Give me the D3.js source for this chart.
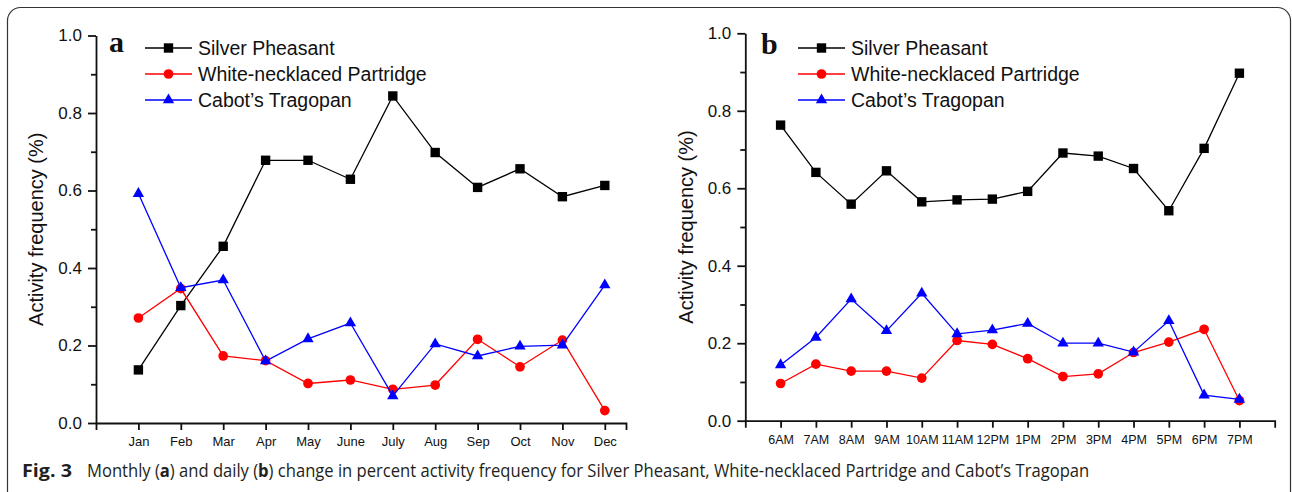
<!DOCTYPE html>
<html>
<head>
<meta charset="utf-8">
<script src="https://cdn.jsdelivr.net/npm/d3@7"></script>
<style>
  body { margin: 0; background: #fff; }
  svg text { font-family: "Liberation Sans", Arial, sans-serif; fill: #111; }
</style>
</head>
<body>
<svg id="fig" width="1292" height="492"></svg>
<script>
// ---- data ----
var months = ["Jan", "Feb", "Mar", "Apr", "May", "June", "July", "Aug", "Sep", "Oct", "Nov", "Dec"];
var hours  = ["6AM", "7AM", "8AM", "9AM", "10AM", "11AM", "12PM", "1PM", "2PM", "3PM", "4PM", "5PM", "6PM", "7PM"];

var seriesNames = ["Silver Pheasant", "White-necklaced Partridge", "Cabot\u2019s Tragopan"];

var monthSilver    = [0.137, 0.303, 0.456, 0.678, 0.678, 0.629, 0.844, 0.698, 0.608, 0.656, 0.584, 0.613];
var monthPartridge = [0.271, 0.347, 0.173, 0.161, 0.102, 0.111, 0.087, 0.098, 0.216, 0.145, 0.214, 0.032];
var monthTragopan  = [0.592, 0.349, 0.369, 0.160, 0.217, 0.258, 0.070, 0.204, 0.173, 0.198, 0.201, 0.356];

var hourSilver    = [0.763, 0.641, 0.559, 0.645, 0.565, 0.570, 0.572, 0.592, 0.691, 0.683, 0.651, 0.542, 0.703, 0.897];
var hourPartridge = [0.096, 0.146, 0.128, 0.128, 0.110, 0.207, 0.197, 0.160, 0.114, 0.121, 0.176, 0.203, 0.236, 0.052];
var hourTragopan  = [0.144, 0.215, 0.314, 0.232, 0.329, 0.224, 0.234, 0.251, 0.200, 0.200, 0.177, 0.258, 0.066, 0.055];

var yMajor = [0, 0.2, 0.4, 0.6, 0.8, 1.0];
var yMinor = [0.1, 0.3, 0.5, 0.7, 0.9];

var colors  = ["#000000", "#ff0000", "#0000ff"];
var symbols = [d3.symbolSquare, d3.symbolCircle, d3.symbolTriangle];
var symSize = [88, 74, 56];

var svg = d3.select("#fig");

// frame
svg.append("rect")
    .attr("x", 7.5).attr("y", 7.5)
    .attr("width", 1283).attr("height", 500)
    .attr("rx", 13).attr("ry", 13)
    .attr("fill", "#fff")
    .attr("stroke", "#333")
    .attr("stroke-width", 1.2);

function panel(cfg) {
  var g = svg.append("g");

  var x = d3.scaleLinear().domain(cfg.xDomain).range([cfg.left, cfg.right]);
  var y = d3.scaleLinear().domain([0, 1]).range([cfg.bottom, cfg.top]);

  // y axis
  var yAxis = g.append("g")
      .attr("transform", "translate(" + cfg.left + ",0)")
      .call(d3.axisLeft(y).tickValues(yMajor).tickFormat(d3.format(".1f"))
              .tickSize(8).tickSizeOuter(0).tickPadding(6));
  yAxis.selectAll("text").style("font-size", "17px");

  g.append("g")
      .attr("transform", "translate(" + cfg.left + ",0)")
      .call(d3.axisLeft(y).tickValues(yMinor).tickFormat("").tickSize(5).tickSizeOuter(0))
      .select(".domain").remove();

  // x axis
  var xAxis = g.append("g")
      .attr("transform", "translate(0," + cfg.bottom + ")")
      .call(d3.axisBottom(x).tickValues(d3.range(cfg.cats.length))
              .tickFormat(function(i) { return cfg.cats[i]; })
              .tickSize(7).tickSizeOuter(7).tickPadding(7));
  xAxis.selectAll("text").style("font-size", cfg.xFont + "px");

  g.selectAll(".domain, .tick line")
      .attr("stroke", "#111")
      .attr("stroke-width", 1.8);

  // y title
  g.append("text")
      .attr("transform", "translate(" + cfg.titleX + "," + ((cfg.top + cfg.bottom) / 2) + ") rotate(-90)")
      .attr("text-anchor", "middle")
      .style("font-size", "20px")
      .text("Activity frequency (%)");

  // series
  var line = d3.line()
      .x(function(d, i) { return x(i); })
      .y(function(d) { return y(d); });

  cfg.series.forEach(function(vals, k) {
    g.append("path")
        .datum(vals)
        .attr("d", line)
        .attr("fill", "none")
        .attr("stroke", colors[k])
        .attr("stroke-width", 1.3);

    g.selectAll(".pt" + k)
        .data(vals)
        .enter().append("path")
        .attr("class", "pt" + k)
        .attr("transform", function(d, i) { return "translate(" + x(i) + "," + y(d) + ")"; })
        .attr("d", d3.symbol().type(symbols[k]).size(symSize[k]))
        .attr("fill", colors[k]);
  });

  // panel letter
  g.append("text")
      .attr("x", cfg.letterX).attr("y", cfg.letterY)
      .style("font-family", "'Liberation Serif', 'Times New Roman', serif")
      .style("font-weight", "bold")
      .style("font-size", "30px")
      .text(cfg.letter);

  // legend
  seriesNames.forEach(function(name, k) {
    var ly = cfg.legendY + k * 26;
    g.append("line")
        .attr("x1", cfg.legendX).attr("x2", cfg.legendX + 47)
        .attr("y1", ly).attr("y2", ly)
        .attr("stroke", colors[k]).attr("stroke-width", 1.3);
    g.append("path")
        .attr("transform", "translate(" + (cfg.legendX + 23.5) + "," + ly + ")")
        .attr("d", d3.symbol().type(symbols[k]).size(symSize[k]))
        .attr("fill", colors[k]);
    g.append("text")
        .attr("x", cfg.legendX + 53).attr("y", ly + 7)
        .style("font-size", "19.5px")
        .text(name);
  });
}

panel({
  cats: months, series: [monthSilver, monthPartridge, monthTragopan],
  xDomain: [-1, 11.5], left: 96, right: 626, top: 35.5, bottom: 423,
  xFont: 13, titleX: 43, letter: "a", letterX: 109, letterY: 52,
  legendX: 145, legendY: 48
});

panel({
  cats: hours, series: [hourSilver, hourPartridge, hourTragopan],
  xDomain: [-1, 14], left: 745.3, right: 1274.7, top: 33.3, bottom: 420.7,
  xFont: 12.5, titleX: 693, letter: "b", letterX: 761, letterY: 54,
  legendX: 798, legendY: 48
});

// caption: squeeze horizontally to the reference width instead of textLength
function fitX(sel, x0, y0, width) {
  var w = sel.node().getComputedTextLength();
  sel.attr("transform", "translate(" + x0 + "," + y0 + ") scale(" + (width / w) + ",1)");
}

var capFont = "'Open Sans', 'Noto Sans', sans-serif";

var fig = svg.append("text")
    .style("font-family", capFont)
    .style("font-weight", "bold")
    .style("font-size", "18px")
    .style("fill", "#231f20")
    .text("Fig. 3");
fitX(fig, 22, 477, 50);

var cap = svg.append("text")
    .style("font-family", capFont)
    .style("font-size", "18px")
    .style("fill", "#231f20");
cap.append("tspan").text("Monthly (");
cap.append("tspan").style("font-weight", "bold").text("a");
cap.append("tspan").text(") and daily (");
cap.append("tspan").style("font-weight", "bold").text("b");
cap.append("tspan").text(") change in percent activity frequency for Silver Pheasant, White-necklaced Partridge and Cabot\u2019s Tragopan");
fitX(cap, 87, 477, 1003);
</script>
</body>
</html>
